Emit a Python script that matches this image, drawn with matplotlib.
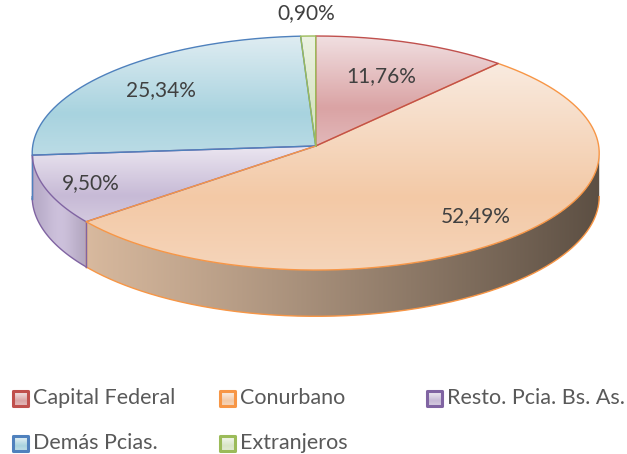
import numpy as np
import matplotlib
matplotlib.use("Agg")
import matplotlib.pyplot as plt
from matplotlib.patches import Polygon, Rectangle

# ---- data -------------------------------------------------------------
categories = ["Capital Federal", "Conurbano", "Resto. Pcia. Bs. As.",
              "Demás Pcias.", "Extranjeros"]
shares = [11.76, 52.49, 9.50, 25.34, 0.90]
value_labels = ["11,76%", "52,49%", "9,50%", "25,34%", "0,90%"]

# ---- styling ----------------------------------------------------------
edge_colors = ["#c0504d", "#f79646", "#8064a2", "#4f81bd", "#9bbb59"]
top_light = [(241, 224, 226), (249, 235, 224), (236, 231, 241), (224, 237, 242), (236, 242, 227)]
top_dark = [(218, 163, 164), (243, 201, 166), (199, 186, 214), (168, 211, 223), (216, 229, 197)]
side_light = [(200, 140, 140), (224, 192, 164), (182, 170, 198), (160, 190, 212), (190, 210, 160)]
side_dark = (92, 79, 67)
label_radius = [0.67, 0.80, 0.84, 0.75, 1.22]
outline_order = [2, 3, 1, 0, 4]

W, H = 627, 454
fig = plt.figure(figsize=(W / 100, H / 100), dpi=100)
ax = fig.add_axes([0, 0, 1, 1])
ax.axis("off")

# perspective view of a flat disc seen from the front and above
X0, Y0 = 315.7, 146.0      # projected centre of the disc
A, B = 283.0, 116.6        # horizontal / vertical radii
K = 0.06                   # perspective strength (far side smaller)
DEPTH = 43.5               # disc thickness at the centre depth


def project(theta, frac=1.0):
    t = np.radians(np.atleast_1d(theta))
    u, v = frac * np.sin(t), frac * np.cos(t)
    s = 1.0 / (1.0 + K * v)
    return np.column_stack([X0 + A * u * s, Y0 - B * v * s]), s


def c01(rgb):
    return np.array(rgb, dtype=float) / 255.0


def clipped_image(poly_xy, img, extent, z):
    patch = Polygon(poly_xy, closed=True, facecolor="none", edgecolor="none")
    ax.add_patch(patch)
    im = ax.imshow(img, extent=extent, aspect="auto", interpolation="bilinear",
                   origin="upper", zorder=z)
    im.set_clip_path(patch)


def vertical_gradient(poly_xy, light, dark, z):
    y0, y1 = poly_xy[:, 1].min(), poly_xy[:, 1].max()
    x0, x1 = poly_xy[:, 0].min(), poly_xy[:, 0].max()
    s = np.linspace(0, 1, 200)[:, None]
    lo, hi = c01(light), c01(dark)
    w = np.where(s < 0.65, s / 0.65, 1 - 0.35 * (s - 0.65) / 0.35)
    img = lo * (1 - w) + hi * w
    clipped_image(poly_xy, img[:, None, :], (x0 - 1, x1 + 1, y1 + 1, y0 - 1), z)


def side_gradient(poly_xy, light, z):
    x0, x1 = poly_xy[:, 0].min(), poly_xy[:, 0].max()
    y0, y1 = poly_xy[:, 1].min(), poly_xy[:, 1].max()
    xs = np.linspace(x0, x1, 300)
    t = np.clip((xs - (X0 - A)) / (2 * A), 0, 1)
    k = t ** 1.15
    glow = 0.10 * np.exp(-((t - 0.05) / 0.03) ** 2)
    col = c01(light)[None, :] * (1 - k[:, None]) + c01(side_dark)[None, :] * k[:, None]
    col = np.clip(col + glow[:, None], 0, 1)
    clipped_image(poly_xy, col[None, :, :], (x0 - 1, x1 + 1, y1 + 1, y0 - 1), z)


bounds = np.concatenate([[0], np.cumsum(shares)]) / np.sum(shares) * 360.0

# silhouette of the rim: the side wall is visible between these angles
sil = np.degrees(np.arccos(-K))
vis_lo, vis_hi = sil, 360.0 - sil

# ---- disc side wall ---------------------------------------------------
for i in range(len(shares)):
    a0, a1 = max(bounds[i], vis_lo), min(bounds[i + 1], vis_hi)
    if a1 <= a0:
        continue
    th = np.linspace(a0, a1, max(int((a1 - a0) * 3), 4))
    top, s = project(th)
    bot = top + np.column_stack([np.zeros_like(s), DEPTH * s])
    poly = np.vstack([top, bot[::-1]])
    side_gradient(poly, side_light[i], 1)
    ax.plot(bot[:, 0], bot[:, 1], color=edge_colors[i], lw=1.0, zorder=3)
    for a in (a0, a1):
        if vis_lo < a < vis_hi:
            p, sp = project(a)
            ax.plot([p[0, 0], p[0, 0]], [p[0, 1], p[0, 1] + DEPTH * sp[0]],
                    color=edge_colors[i], lw=1.0, zorder=3)

# ---- top faces --------------------------------------------------------
faces = []
for i in range(len(shares)):
    th = np.linspace(bounds[i], bounds[i + 1], max(int((bounds[i + 1] - bounds[i]) * 3), 4))
    rim_pts, _ = project(th)
    poly = np.vstack([[X0, Y0], rim_pts])
    faces.append(poly)
    vertical_gradient(poly, top_light[i], top_dark[i], 2)

for i in outline_order:
    poly = faces[i]
    closed = np.vstack([poly, poly[:1]])
    ax.plot(closed[:, 0], closed[:, 1], color=edge_colors[i], lw=1.0,
            zorder=4, solid_joinstyle="round")

# ---- value labels -----------------------------------------------------
font = "Lato"
for i, txt in enumerate(value_labels):
    mid = (bounds[i] + bounds[i + 1]) / 2
    pos, _ = project(mid, label_radius[i])
    ax.text(pos[0, 0], pos[0, 1], txt, ha="center", va="center", fontsize=15,
            family=font, color="#404040", zorder=6)

# ---- legend -----------------------------------------------------------
col_x = [12, 219, 426]
row_y = [398, 443]
box = 16
for i, name in enumerate(categories):
    r, c = divmod(i, 3)
    mx, my = col_x[c], row_y[r]
    sq = np.array([[mx, my - box / 2], [mx + box, my - box / 2],
                   [mx + box, my + box / 2], [mx, my + box / 2]])
    vertical_gradient(sq, (252, 252, 252), top_dark[i], 5)
    ax.add_patch(Rectangle((mx + 0.5, my - box / 2 + 0.5), box - 1, box - 1,
                           facecolor="none", edgecolor=edge_colors[i], lw=2.2,
                           joinstyle="round", zorder=6))
    ax.text(mx + box + 5, my, name, ha="left", va="center", fontsize=15.5,
            family=font, color="#595959", zorder=6)

ax.set_xlim(0, W)
ax.set_ylim(H, 0)
fig.savefig("out.png", dpi=100)
